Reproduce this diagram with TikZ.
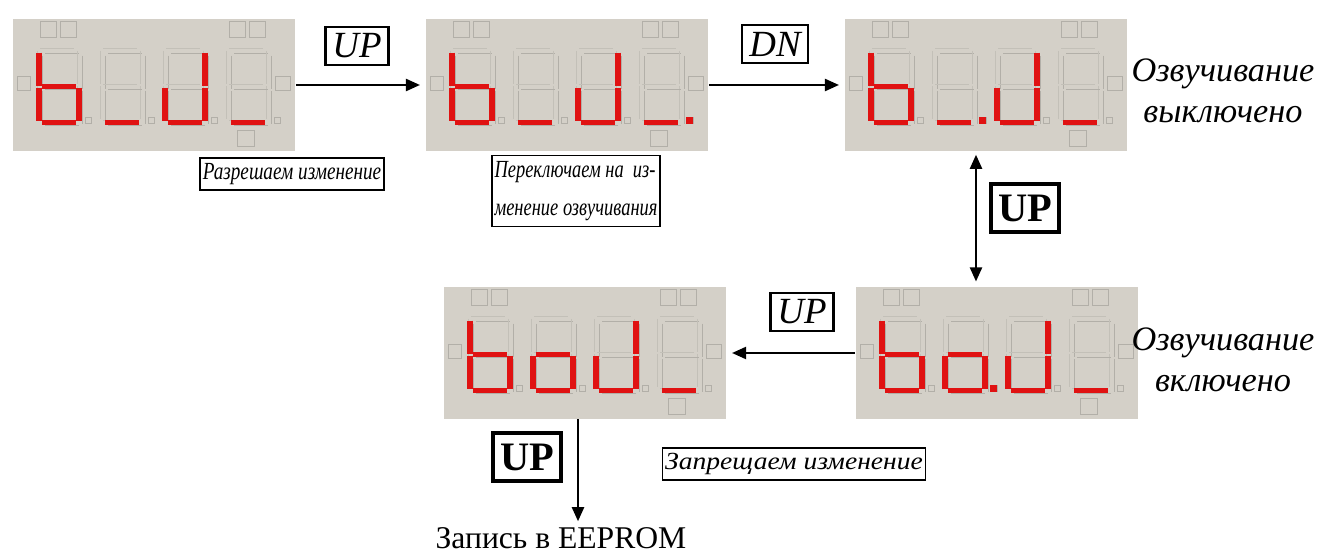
\documentclass[tikz,border=0pt]{standalone}
\usepackage{fontspec}
\setmainfont{Liberation Serif}
\usetikzlibrary{arrows.meta}

\definecolor{lcdgray}{RGB}{212,208,200}
\definecolor{lcdred}{RGB}{224,18,18}
\definecolor{ghost}{RGB}{178,175,168}

\tikzset{
	lcd/.style={fill=lcdgray, inner sep=0pt, minimum width=5.66cm, minimum height=2.64cm},
	litseg/.style={lcdred, line width=3.1pt},
	ghostseg/.style={ghost, line width=0.55pt},
	tag/.style={draw, line width=0.8pt, inner xsep=1.5pt, inner ysep=3pt, font=\fontsize{14}{22}\selectfont\itshape},
	key/.style={draw, line width=1.3pt, inner xsep=4pt, inner ysep=4pt, font=\fontsize{21}{23}\selectfont\itshape},
	boldkey/.style={draw, line width=1.8pt, inner xsep=4pt, inner ysep=6pt, font=\fontsize{23}{25}\selectfont\bfseries},
	note/.style={align=center, font=\fontsize{19.5}{23}\selectfont\itshape},
	flow/.style={line width=0.9pt}
}

% squeeze text sideways
\newcommand\squeeze[2]{\scalebox{#1}[1]{#2}}

% grey marks round a display
\newcommand\lcdframe[1]{%
	\begin{scope}[shift={(#1.north west)}]
		\draw [ghostseg] (28,3) rectangle (44,19) (48,3) rectangle (64,19)
			(217,3) rectangle (233,19) (237,3) rectangle (253,19)
			(225,112) rectangle (242,128)
			(5,58) rectangle (18,72) (263,58) rectangle (278,72);
	\end{scope}}

% #1 display, #2 digit 0..3, #3 lit segments
\newcommand\lcddigit[3]{%
	\begin{scope}[shift={(#1.north west)}, shift={(27+63*#2,32)}]
		\coordinate (sa1) at (3,0);   \coordinate (sa2) at (37,0);
		\coordinate (sb1) at (40,2);  \coordinate (sb2) at (40,35);
		\coordinate (sc1) at (40,37); \coordinate (sc2) at (40,70);
		\coordinate (sd1) at (3,72);  \coordinate (sd2) at (37,72);
		\coordinate (se1) at (0,37);  \coordinate (se2) at (0,70);
		\coordinate (sf1) at (0,2);   \coordinate (sf2) at (0,35);
		\coordinate (sg1) at (3,36);  \coordinate (sg2) at (37,36);
		\foreach \s in {a,...,g}{
			\draw [ghostseg] ([shift={(3,3)}]s\s1) -- ([shift={(3,3)}]s\s2);
			\draw [ghostseg, ghost!50!lcdgray] ([shift={(-2,-2)}]s\s1) -- ([shift={(-2,-2)}]s\s2);
		}
		\draw [ghostseg] (46,67) rectangle (52,73);
		\foreach \s in {#3}
			\draw [litseg] (s\s1) -- (s\s2);
	\end{scope}}

% decimal point after a digit
\newcommand\lcddot[2]{%
	\begin{scope}[shift={(#1.north west)}, shift={(27+63*#2,32)}]
		\fill [lcdred] (45,66) rectangle (52,73);
	\end{scope}}

\begin{document}
\begin{tikzpicture}[x=0.02cm, y=-0.02cm, >={Triangle[length=8pt,width=7pt]}]
	\useasboundingbox (0,0) rectangle (1320,554);

	%displays
	\node [lcd] (lcd1) at (154,85) {};
	\node [lcd] (lcd2) at (567,85) {};
	\node [lcd] (lcd3) at (986,85) {};
	\node [lcd] (lcd4) at (585,353) {};
	\node [lcd] (lcd5) at (997,353) {};

	%digits
	\foreach \d in {lcd1,lcd2,lcd3}{
		\lcdframe{\d}
		\lcddigit{\d}{0}{f,e,g,c,d}
		\lcddigit{\d}{1}{d}
		\lcddigit{\d}{2}{b,c,d,e}
		\lcddigit{\d}{3}{d}
	}
	\foreach \d in {lcd4,lcd5}{
		\lcdframe{\d}
		\lcddigit{\d}{0}{f,e,g,c,d}
		\lcddigit{\d}{1}{g,c,d,e}
		\lcddigit{\d}{2}{b,c,d,e}
		\lcddigit{\d}{3}{d}
	}
	\lcddot{lcd2}{3}
	\lcddot{lcd3}{1}
	\lcddot{lcd5}{1}

	%labels
	\node [key] (up1) at (357,46) {UP};
	\node [key] (dn) at (775,44) {DN};
	\node [boldkey] (up2) at (1025,208) {UP};
	\node [key] (up3) at (802,312) {UP};
	\node [boldkey] (up4) at (527,457) {UP};
	\node [tag] (allow) at (292,174) {\squeeze{0.78}{Разрешаем изменение}};
	\node [tag, align=left] (switch) at (576,191) {\squeeze{0.75}{Переключаем на \ из-}\\\squeeze{0.75}{менение озвучивания}};
	\node [tag] (deny) at (794,464) {\squeeze{1.12}{Запрещаем изменение}};
	\node [note] (off) at (1223,91) {Озвучивание\\выключено};
	\node [note] (on) at (1223,360) {Озвучивание\\включено};
	\node [font=\fontsize{18}{21}\selectfont] (eeprom) at (561,538) {Запись в EEPROM};

	%arrows
	\coordinate (toggle) at (976,0);
	\coordinate (store) at (578,0);
	\draw [flow, ->, shorten >=3pt] (lcd1) -- (lcd2);
	\draw [flow, ->, shorten >=3pt] (lcd2) -- (lcd3);
	\draw [flow, <->, shorten <=2pt, shorten >=3pt] (lcd3.south -| toggle) -- (lcd5.north -| toggle);
	\draw [flow, ->, shorten >=3pt] (lcd5) -- (lcd4);
	\draw [flow, ->] (lcd4.south -| store) -- (eeprom.north -| store);

\end{tikzpicture}
\end{document}
